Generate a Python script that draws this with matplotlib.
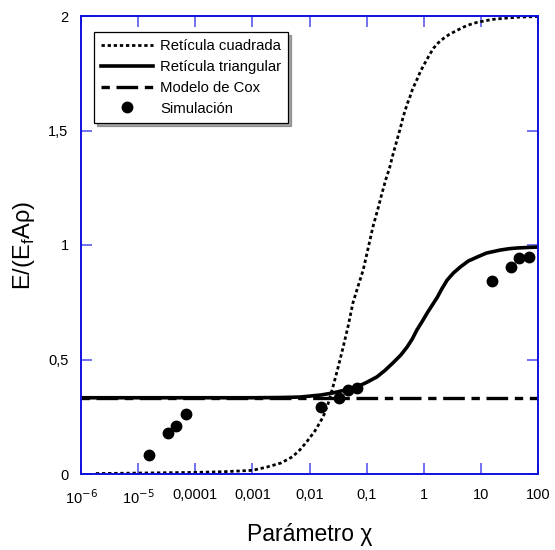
import numpy as np
import matplotlib
matplotlib.use("Agg")
import matplotlib.pyplot as plt
from matplotlib.ticker import FixedLocator, FixedFormatter, NullLocator

plt.rcParams['font.family'] = ['Liberation Sans', 'DejaVu Sans']

# curves (log10 of chi, value)
sq_logx = [-5.74, -5.0, -4.0, -3.5, -3.0, -2.75, -2.5, -2.3, -2.17, -2.05, -1.9, -1.83,
           -1.76, -1.67, -1.59, -1.5, -1.41, -1.32, -1.24, -1.15, -1.06, -0.97, -0.89,
           -0.8, -0.73, -0.66, -0.60, -0.55, -0.50, -0.45, -0.41, -0.37, -0.33, -0.28,
           -0.24, -0.2, -0.15, -0.1, -0.06, 0.0, 0.05, 0.1, 0.17, 0.25, 0.35, 0.45,
           0.58, 0.7, 0.81, 0.93, 1.05, 1.2, 1.40, 1.65, 1.92, 2.0]
sq_y = [0.002, 0.004, 0.007, 0.01, 0.016, 0.03, 0.048, 0.075, 0.105, 0.14, 0.19, 0.22,
        0.25, 0.31, 0.38, 0.465, 0.555, 0.65, 0.747, 0.82, 0.891, 0.99, 1.079,
        1.16, 1.227, 1.29, 1.335, 1.385, 1.43, 1.475, 1.51, 1.55, 1.585, 1.622,
        1.648, 1.678, 1.706, 1.733, 1.757, 1.785, 1.808, 1.83, 1.859, 1.882, 1.903, 1.92,
        1.937, 1.952, 1.963, 1.972, 1.978, 1.985, 1.99, 1.995, 1.997, 1.998]

tri_logx = [-6.0, -5.0, -4.0, -3.0, -2.5, -2.17, -2.0, -1.8, -1.59, -1.4, -1.17, -1.0,
            -0.82, -0.68, -0.54, -0.4, -0.29, -0.2, -0.12, -0.03, 0.06, 0.15, 0.24,
            0.32, 0.41, 0.52, 0.64, 0.78, 0.94, 1.1, 1.34, 1.5, 1.64, 1.8, 2.0]
tri_y = [0.333, 0.333, 0.333, 0.333, 0.334, 0.336, 0.34, 0.345, 0.354, 0.365, 0.38, 0.40,
         0.424, 0.452, 0.485, 0.52, 0.555, 0.59, 0.629, 0.665, 0.703, 0.738, 0.773,
         0.81, 0.847, 0.878, 0.904, 0.93, 0.948, 0.965, 0.978, 0.984, 0.987, 0.989, 0.991]

cox_logx = [-6.0, 2.0]
cox_y = [1/3, 1/3]

sim_logx = [-4.81, -4.48, -4.33, -4.16, -1.80, -1.48, -1.32, -1.16, 1.20, 1.525, 1.67, 1.84]
sim_y = [0.083, 0.178, 0.211, 0.261, 0.294, 0.333, 0.367, 0.376, 0.844, 0.904, 0.942, 0.949]

xticks = [1e-6, 1e-5, 1e-4, 1e-3, 1e-2, 1e-1, 1, 10, 100]
xticklabels = ['10$^{-6}$', '10$^{-5}$', '0,0001', '0,001', '0,01', '0,1', '1', '10', '100']
yticks = [0, 0.5, 1, 1.5, 2]
yticklabels = ['0', '0,5', '1', '1,5', '2']

fig = plt.figure(figsize=(5.55, 5.5), dpi=100)
ax = fig.add_axes([81/555, 76/550, 457/555, 458/550])

ax.plot(10**np.array(sq_logx), sq_y, color='black', lw=2, linestyle=(0, (1.2, 1.0)),
        label='Retícula cuadrada')
ax.plot(10**np.array(tri_logx), tri_y, color='black', lw=2.6, label='Retícula triangular')
ax.plot(10**np.array(cox_logx), cox_y, color='black', lw=2.4,
        linestyle=(0, (2.5, 2.0, 6.5, 2.0)), label='Modelo de Cox')
ax.plot(10**np.array(sim_logx), sim_y, 'o', color='black', ms=7.5, label='Simulación')

ax.set_xscale('log')
ax.set_xlim(1e-6, 100)
ax.set_ylim(0, 2)
ax.xaxis.set_major_locator(FixedLocator(xticks))
ax.xaxis.set_major_formatter(FixedFormatter(xticklabels))
ax.xaxis.set_minor_locator(NullLocator())
ax.set_yticks(yticks)
ax.set_yticklabels(yticklabels)

for s in ax.spines.values():
    s.set_color('#1010e0')
    s.set_linewidth(1.4)
ax.tick_params(which='both', direction='in', length=8, width=1.2, color='#5a5aee',
               top=True, right=True, labelsize=10.5, labelcolor='black')
ax.tick_params(axis='x', pad=10)
ax.tick_params(axis='y', pad=9)

ax.set_xlabel('Parámetro χ', fontsize=16.5, labelpad=12)
ax.set_ylabel('E/(E$_\\mathregular{f}$A\u03c1)', fontsize=17, labelpad=8)

leg = ax.legend(loc='upper left', bbox_to_anchor=(0.028, 0.965), fontsize=10.7,
                frameon=True, fancybox=False, shadow=True, borderaxespad=0,
                handlelength=3.5, labelspacing=0.45, borderpad=0.5, handletextpad=0.45)
leg.get_frame().set_edgecolor('black')
leg.get_frame().set_linewidth(0.9)

fig.savefig('out.png', dpi=100)
